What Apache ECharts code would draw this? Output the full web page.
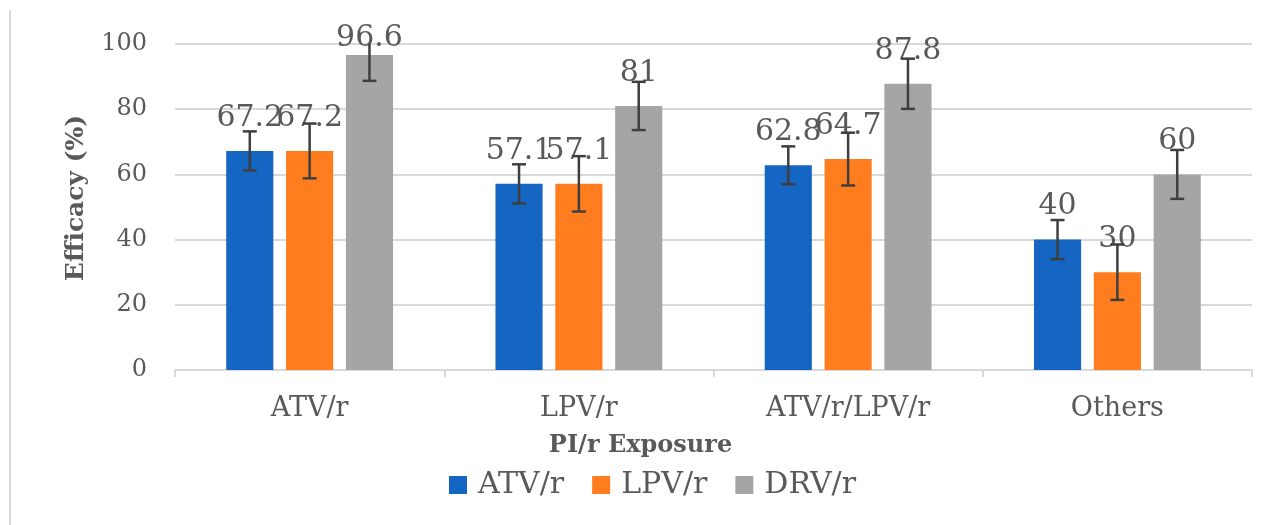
<!DOCTYPE html>
<html>
<head>
<meta charset="utf-8">
<script src="https://cdn.jsdelivr.net/npm/echarts@6/dist/echarts.min.js"></script>
<style>html,body{margin:0;padding:0;background:#fff}#c{width:1285px;height:525px}</style>
</head>
<body>
<div id="c"></div>
<script>
const categories = ['ATV/r', 'LPV/r', 'ATV/r/LPV/r', 'Others'];
const seriesNames = ['ATV/r', 'LPV/r', 'DRV/r'];
const atv = [67.2, 57.1, 62.8, 40];
const lpv = [67.2, 57.1, 64.7, 30];
const drv = [96.6, 81, 87.8, 60];
const atvErr = [6, 6, 5.8, 6];
const lpvErr = [8.4, 8.5, 8.1, 8.5];
const drvErr = [7.9, 7.4, 7.7, 7.5];
const yTicks = [0, 20, 40, 60, 80, 100];

const colors = ['#1565c2', '#ff7d1e', '#a5a5a5'];
const FONT = 'DejaVu Serif';
const TXT = '#595959';
const BAR_W = 0.175, GAP = 0.27;

const values = [atv, lpv, drv];
const errs = [atvErr, lpvErr, drvErr];

function errSeries(k) {
  const off = (k - 1) * BAR_W * (1 + GAP);
  return {
    type: 'custom',
    z: 5,
    silent: true,
    data: values[k].map((v, i) => [i, v, errs[k][i]]),
    renderItem: function (params, api) {
      const i = api.value(0), v = api.value(1), e = api.value(2);
      const band = api.size([1, 0])[0];
      const c = api.coord([i, v]);
      const x = c[0] + off * band;
      const topY = params.coordSys.y;
      const hiRaw = api.coord([i, v + e])[1];
      const hi = Math.max(hiRaw, topY);
      const lo = api.coord([i, v - e])[1];
      const cap = 7;
      const st = { stroke: '#3f3f3f', lineWidth: 2.5 };
      const children = [
        { type: 'line', shape: { x1: x, y1: hi, x2: x, y2: lo }, style: st },
        { type: 'line', shape: { x1: x - cap, y1: lo, x2: x + cap, y2: lo }, style: st }
      ];
      if (hiRaw >= topY) children.push({ type: 'line', shape: { x1: x - cap, y1: hi, x2: x + cap, y2: hi }, style: st });
      return { type: 'group', children: children };
    }
  };
}

// labels near the top of the plot get pushed down (as the original does)
const series = seriesNames.map((n, k) => ({
  name: n,
  type: 'bar',
  data: values[k].map(v => v > 93 ? { value: v, label: { distance: 2 } } : v),
  barWidth: (BAR_W * 100) + '%',
  barGap: (GAP * 100) + '%',
  itemStyle: { color: colors[k] },
  label: {
    show: true, position: 'top', distance: 18,
    color: TXT, fontFamily: FONT, fontSize: 30
  }
}));
for (let k = 0; k < 3; k++) series.push(errSeries(k));

const chart = echarts.init(document.getElementById('c'), null, { renderer: 'canvas' });
chart.setOption({
  animation: false,
  backgroundColor: '#fff',
  textStyle: { fontFamily: FONT, color: TXT },
  grid: { left: 175, right: 33, top: 44, bottom: 155 },
  legend: {
    data: seriesNames.map((n, k) => ({ name: n, itemStyle: { color: colors[k] } })),
    bottom: 20, left: 444,
    itemWidth: 18, itemHeight: 18, itemGap: 28,
    icon: 'rect',
    textStyle: { fontFamily: FONT, fontSize: 30, color: TXT, padding: [0, 0, 0, 6] }
  },
  xAxis: {
    type: 'category',
    data: categories,
    name: 'PI/r Exposure',
    nameLocation: 'middle',
    nameGap: 64,
    nameTextStyle: { fontFamily: FONT, fontSize: 24, fontWeight: 'bold', color: TXT, padding: [0, 146, 0, 0] },
    axisLine: { lineStyle: { color: '#d9d9d9', width: 2 } },
    axisTick: { show: true, length: 7, lineStyle: { color: '#d9d9d9', width: 2 } },
    axisLabel: { color: TXT, fontFamily: FONT, fontSize: 27, margin: 25 }
  },
  yAxis: {
    type: 'value',
    min: yTicks[0], max: yTicks[yTicks.length - 1], interval: 20,
    name: 'Efficacy (%)',
    nameLocation: 'middle',
    nameGap: 86,
    nameRotate: 90,
    nameTextStyle: { fontFamily: FONT, fontSize: 25, fontWeight: 'bold', color: TXT, padding: [0, 0, 0, 18] },
    axisLine: { show: false },
    axisTick: { show: false },
    splitLine: { lineStyle: { color: '#d9d9d9', width: 2 } },
    axisLabel: { color: TXT, fontFamily: FONT, fontSize: 24, margin: 28 }
  },
  graphic: [
    { type: 'line', shape: { x1: 10, y1: 10, x2: 10, y2: 525 }, style: { stroke: '#d9d9d9', lineWidth: 2 } }
  ],
  series: series
});
</script>
</body>
</html>
